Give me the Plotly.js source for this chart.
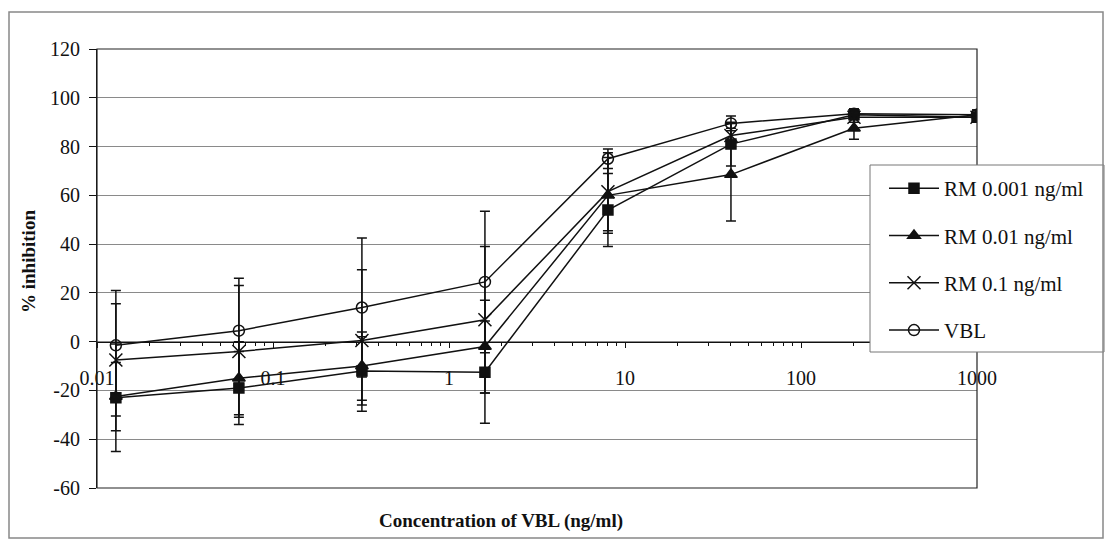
<!DOCTYPE html>
<html>
<head>
<meta charset="utf-8">
<script src="https://cdn.plot.ly/plotly-3.0.1.min.js"></script>
<style>html,body{margin:0;padding:0;background:#fff;}#chart{width:1109px;height:540px;}</style>
</head>
<body>
<div id="chart"></div>
<script>
// Concentrations of VBL (ng/ml)
var conc = [0.0128, 0.064, 0.32, 1.6, 8, 40, 200, 1000];

var seriesNames = ["RM 0.001 ng/ml", "RM 0.01 ng/ml", "RM 0.1 ng/ml", "VBL"];

var rm0001 = [-23, -19, -12, -12.5, 54, 81, 93, 92];
var rm0001Err = [22, 15, 14, 21, 15, 9, 2, 2];

var rm001 = [-22.5, -15, -10, -2, 60, 68.5, 87.5, 93];
var rm001Err = [14, 15, 14, 19, 15.5, 19, 4.5, 2];

var rm01 = [-7.5, -4, 0.5, 9, 61.5, 84.5, 92, 92];
var rm01Err = [23, 27, 29, 30, 16, 5, 2, 2];

var vbl = [-1.5, 4.5, 14, 24.5, 75, 89.5, 93.5, 93];
var vblErr = [22.5, 21.5, 28.5, 29, 4, 3, 2, 2];

var xTickVals = [0.01, 0.1, 1, 10, 100, 1000];
var xTickText = ["0.01", "0.1", "1", "10", "100", "1000"];

var yTickVals = [-60, -40, -20, 0, 20, 40, 60, 80, 100, 120];
var yTickText = ["-60", "-40", "-20", "0", "20", "40", "60", "80", "100", "120"];

var serif = "'Liberation Serif', 'Times New Roman', serif";

function mk(name, y, err, symbol, size, idx) {
  return {
    x: conc, y: y, name: name, type: "scatter", mode: "lines+markers",
    legendgroup: "g" + idx,
    line: {color: "#111", width: 1.5},
    marker: {symbol: symbol, size: size, color: "#111", line: {color: "#111", width: 1.5}},
    error_y: {type: "data", array: err, visible: true, color: "#111", thickness: 1.5, width: 5}
  };
}

var data = [
  mk(seriesNames[0], rm0001, rm0001Err, "square", 10, 0),
  mk(seriesNames[1], rm001, rm001Err, "triangle-up", 11, 1),
  mk(seriesNames[2], rm01, rm01Err, "x-thin-open", 13, 2),
  mk(seriesNames[3], vbl, vblErr, "circle-open", 11, 3)
];

var W = 880, H = 439, L = 97, T = 49;
function px(x) { return (x - L) / W; }
function py(y) { return (T + H - y) / H; }

var layout = {
  width: 1109, height: 540,
  margin: {l: 97, r: 132, t: 49, b: 52},
  paper_bgcolor: "#ffffff", plot_bgcolor: "#ffffff",
  font: {family: serif, size: 20, color: "#111"},
  showlegend: true,
  legend: {
    x: px(884), y: py(168), xanchor: "left", yanchor: "top",
    bgcolor: "rgba(0,0,0,0)", borderwidth: 0,
    font: {family: serif, size: 21, color: "#111"},
    tracegroupgap: 17, itemwidth: 50
  },
  xaxis: {
    type: "log", range: [-2, 3],
    anchor: "free", position: 1/3,
    tickvals: xTickVals, ticktext: xTickText,
    ticks: "outside", ticklen: 5, tickcolor: "#111", tickwidth: 1,
    minor: {ticks: "outside", ticklen: 3, tickcolor: "#111", dtick: "D1", showgrid: false},
    showline: true, linecolor: "#111", linewidth: 1,
    showgrid: false, zeroline: false,
    ticklabelstandoff: 13,
    tickfont: {family: serif, size: 20, color: "#111"}
  },
  yaxis: {
    range: [-60, 120], tickvals: yTickVals, ticktext: yTickText,
    ticks: "outside", ticklen: 7, tickcolor: "#111",
    showline: true, linecolor: "#111", linewidth: 1,
    showgrid: true, gridcolor: "#8a8a8a", gridwidth: 1,
    zeroline: false, ticklabelstandoff: 5,
    tickfont: {family: serif, size: 20, color: "#111"}
  },
  shapes: [
    {type: "rect", xref: "paper", yref: "paper", x0: 0, x1: 1, y0: 0, y1: 1,
     line: {color: "#222", width: 1.2}, layer: "above"},
    {type: "rect", xref: "paper", yref: "paper", x0: px(870), x1: px(1104), y0: py(352), y1: py(165),
     line: {color: "#777", width: 1}, fillcolor: "#ffffff", layer: "above"},
    {type: "rect", xref: "paper", yref: "paper", x0: px(9), x1: px(1103), y0: py(538), y1: py(12),
     line: {color: "#888", width: 1.5}}
  ],
  annotations: [
    {text: "<b>% inhibition</b>", xref: "paper", yref: "paper", x: px(28), y: py(262),
     xanchor: "center", yanchor: "middle",
     textangle: -90, showarrow: false, font: {family: serif, size: 19, color: "#111"}},
    {text: "<b>Concentration of VBL (ng/ml)</b>", xref: "paper", yref: "paper", x: px(501), y: py(521),
     xanchor: "center", yanchor: "middle",
     showarrow: false, font: {family: serif, size: 19, color: "#111"}}
  ]
};

Plotly.newPlot("chart", data, layout, {displayModeBar: false, staticPlot: true});
</script>
</body>
</html>
